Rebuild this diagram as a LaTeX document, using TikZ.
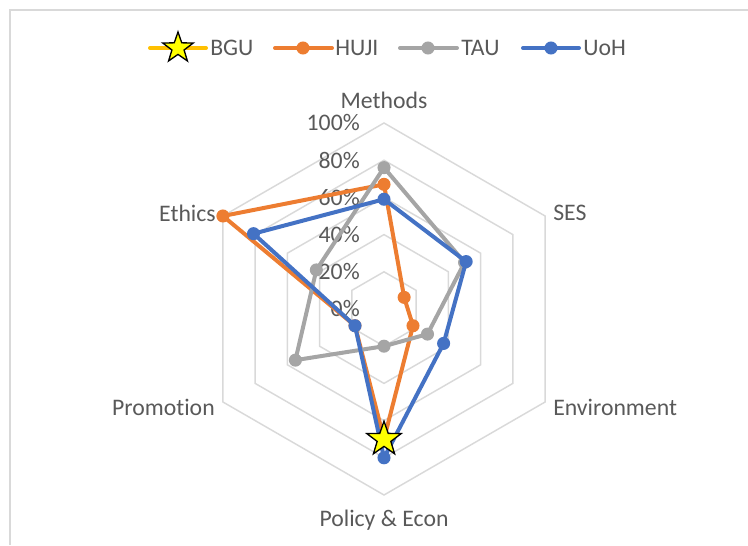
\documentclass[tikz,border=0pt]{standalone}
\usepackage{fontspec}
\setmainfont{Carlito}[Ligatures={NoCommon,NoContextual}]
\usetikzlibrary{shapes.geometric}
\definecolor{gridgray}{HTML}{D9D9D9}
\definecolor{txtgray}{HTML}{595959}
\definecolor{hujiorange}{HTML}{ED7D31}
\definecolor{taugray}{HTML}{A5A5A5}
\definecolor{uohblue}{HTML}{4472C4}
\definecolor{bguyellow}{HTML}{FFC000}
\definecolor{starfill}{HTML}{FFFF00}
\tikzset{
  gridline/.style={draw=gridgray, line width=1.1pt},
  series/.style={draw=#1, line width=3pt, line join=round, line cap=round},
  dot/.style={circle, fill=#1, inner sep=0pt, minimum size=9.8pt},
  bgustar/.style={star, star points=5, star point ratio=2.5, fill=starfill,
    draw=black, line width=1pt, inner sep=0pt, minimum size=#1},
  lbl/.style={inner sep=0pt}
}
\begin{document}
\begin{tikzpicture}[x=0.75pt, y=0.75pt, font=\fontsize{17.8}{21}\selectfont, text=txtgray]
      \useasboundingbox (0,0) rectangle (748,545);
      \draw[gridline, line width=1.5pt] (10,0) -- (10,535) -- (748,535); % frame
      %
      % legend
      \coordinate (bgu-a) at (150,497);
      \coordinate (bgu-b) at (206,497);
      \draw[series=bguyellow] (bgu-a) -- (bgu-b);
      \node[bgustar=24pt] (bgu-key) at (178,497) {};
      \node[lbl, anchor=west] (bgu-txt) at (210,497) {BGU};
      %
      \coordinate (huji-a) at (275,497);
      \coordinate (huji-b) at (332,497);
      \draw[series=hujiorange] (huji-a) -- (huji-b);
      \node[dot=hujiorange] (huji-key) at (303,497) {};
      \node[lbl, anchor=west] (huji-txt) at (335,497) {HUJI};
      %
      \coordinate (tau-a) at (400,497);
      \coordinate (tau-b) at (457,497);
      \draw[series=taugray] (tau-a) -- (tau-b);
      \node[dot=taugray] (tau-key) at (428,497) {};
      \node[lbl, anchor=west] (tau-txt) at (461,497) {TAU};
      %
      \coordinate (uoh-a) at (523,497);
      \coordinate (uoh-b) at (579,497);
      \draw[series=uohblue] (uoh-a) -- (uoh-b);
      \node[dot=uohblue] (uoh-key) at (551,497) {};
      \node[lbl, anchor=west] (uoh-txt) at (583,497) {UoH};
      %
      \begin{scope}[shift={(384,236)}]
        \foreach \k in {1,...,5} % rings
          \draw[gridline] (90:\k*37.2) -- (30:\k*37.2) -- (-30:\k*37.2)
            -- (-90:\k*37.2) -- (-150:\k*37.2) -- (150:\k*37.2) -- cycle;
        %
        \foreach \k/\p in {0/0,1/20,2/40,3/60,4/80,5/100} % scale
          \node[lbl, anchor=east] (pct-\p) at (-24,\k*37.2) {\p\%};
        %
        \node[lbl] (ax-methods) at (0,209) {Methods};          % axes
        \node[lbl, anchor=west] (ax-ses) at (169,96) {SES};
        \node[lbl, anchor=west] (ax-env) at (169,-98) {Environment};
        \node[lbl] (ax-policy) at (0,-211) {Policy \& Econ};
        \node[lbl, anchor=east] (ax-promo) at (-169,-98) {Promot\kern0pt ion};
        \node[lbl, anchor=east] (ax-ethics) at (-168,96) {Ethics};
        %
        % HUJI
        \foreach \v [count=\i] in {.67,.125,.18,.70,.18,1.0}
          \coordinate (huji-\i) at ({150-60*\i}:{\v*186});
        \draw[series=hujiorange] (huji-1) \foreach \i in {2,...,6} {-- (huji-\i)} -- cycle;
        \foreach \i in {1,...,6}
          \node[dot=hujiorange] (huji-dot-\i) at (huji-\i) {};
        %
        % TAU
        \foreach \v [count=\i] in {.76,.5,.27,.20,.55,.42}
          \coordinate (tau-\i) at ({150-60*\i}:{\v*186});
        \draw[series=taugray] (tau-1) \foreach \i in {2,...,6} {-- (tau-\i)} -- cycle;
        \foreach \i in {1,...,6}
          \node[dot=taugray] (tau-dot-\i) at (tau-\i) {};
        %
        % UoH
        \foreach \v [count=\i] in {.59,.51,.37,.80,.18,.81}
          \coordinate (uoh-\i) at ({150-60*\i}:{\v*186});
        \draw[series=uohblue] (uoh-1) \foreach \i in {2,...,6} {-- (uoh-\i)} -- cycle;
        \foreach \i in {1,...,6}
          \node[dot=uohblue] (uoh-dot-\i) at (uoh-\i) {};
        %
        % BGU
        \coordinate (bgu-4) at (-90:0.70*186);
        \node[bgustar=27pt] (bgu-dot-4) at (bgu-4) {};
      \end{scope}
      %
    \end{tikzpicture}
\end{document}
